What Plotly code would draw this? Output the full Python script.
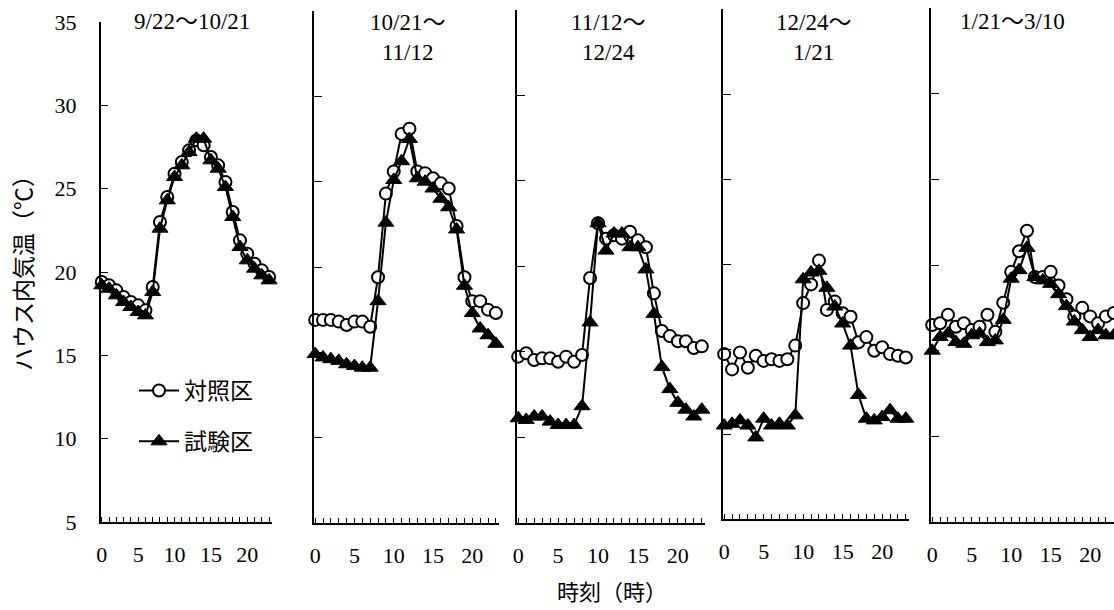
import plotly.graph_objects as go

# Hour of day (0-23) for every series
HOURS = list(range(24))

# Period captions, one per panel
PERIODS = ["9/22～10/21", "10/21～<br>11/12", "11/12～<br>12/24", "12/24～<br>1/21", "1/21～3/10"]

# Mean hourly greenhouse air temperature (°C), control plot (対照区)
ctrl_p1 = [19.4, 19.2, 18.9, 18.5, 18.2, 18.0, 17.7, 19.1, 23.0, 24.5, 25.9, 26.6,
           27.3, 27.9, 27.6, 26.9, 26.4, 25.4, 23.6, 21.9, 21.1, 20.5, 20.1, 19.7]
ctrl_p2 = [16.9, 16.9, 16.9, 16.8, 16.6, 16.8, 16.8, 16.5, 19.4, 24.3, 25.6, 27.8,
           28.1, 25.6, 25.5, 25.2, 24.9, 24.6, 22.4, 19.4, 18.0, 18.0, 17.5, 17.3]
ctrl_p3 = [14.7, 14.9, 14.5, 14.6, 14.6, 14.4, 14.7, 14.4, 14.8, 19.3, 22.5, 21.6,
           21.8, 21.6, 22.0, 21.5, 21.1, 18.4, 16.2, 15.9, 15.6, 15.6, 15.2, 15.3]
ctrl_p4 = [14.7, 13.8, 14.8, 13.9, 14.6, 14.3, 14.4, 14.3, 14.4, 15.2, 17.7, 18.8,
           20.2, 17.3, 17.8, 17.1, 16.9, 15.4, 15.7, 14.9, 15.1, 14.7, 14.6, 14.5]
ctrl_p5 = [16.5, 16.6, 17.1, 16.4, 16.6, 16.2, 16.4, 17.1, 16.1, 17.8, 19.6, 20.8,
           22.0, 19.3, 19.3, 19.6, 18.8, 18.0, 17.0, 17.5, 17.0, 16.6, 17.0, 17.2]

# Mean hourly greenhouse air temperature (°C), test plot (試験区)
test_p1 = [19.2, 19.0, 18.6, 18.2, 17.9, 17.6, 17.4, 18.8, 22.6, 24.3, 25.7, 26.4,
           27.2, 28.0, 28.0, 26.7, 26.2, 25.1, 23.3, 21.5, 20.7, 20.2, 19.8, 19.5]
test_p2 = [14.9, 14.7, 14.6, 14.5, 14.3, 14.2, 14.1, 14.1, 18.0, 22.6, 25.1, 26.2,
           27.5, 25.2, 25.0, 24.6, 24.0, 23.5, 22.2, 18.9, 17.3, 16.4, 16.0, 15.5]
test_p3 = [11.1, 11.0, 11.2, 11.2, 10.9, 10.7, 10.7, 10.7, 11.8, 16.7, 22.5, 20.9,
           21.9, 21.9, 21.1, 21.1, 19.8, 17.2, 14.1, 12.8, 12.0, 11.6, 11.2, 11.6]
test_p4 = [10.5, 10.6, 10.8, 10.5, 9.8, 10.9, 10.5, 10.6, 10.5, 11.1, 19.1, 19.5,
           19.6, 18.6, 17.5, 16.5, 15.2, 12.3, 10.9, 10.8, 11.0, 11.4, 10.9, 10.9]
test_p5 = [15.0, 15.8, 16.0, 15.5, 15.4, 15.9, 16.0, 15.5, 15.6, 16.8, 19.2, 19.7,
           21.0, 19.3, 19.1, 18.9, 18.3, 17.6, 16.7, 16.2, 15.8, 16.2, 15.9, 15.9]

CTRL = [ctrl_p1, ctrl_p2, ctrl_p3, ctrl_p4, ctrl_p5]
TEST = [test_p1, test_p2, test_p3, test_p4, test_p5]

Y_TICKS = [5, 10, 15, 20, 25, 30, 35]
X_TICKS = [0, 5, 10, 15, 20]

W, H = 1114, 610
X0 = -0.15  # left end of each hour axis
# panel frames in pixels: left, nominal right, top (35 °C), bottom (5 °C)
FRAMES = [(100.7, 272, 22, 522), (314, 499, 11, 523), (517, 705, 9.5, 522.5),
          (723, 909, 9, 519), (931, 1117, 8, 522)]
SPAN = 23.55  # hours covered by the nominal panel width
TITLE_X = [192, 407, 608, 813, 1012]  # caption centres in pixels

NUM_FONT = "Liberation Serif, Noto Sans CJK JP, serif"
JP_FONT = "Noto Sans CJK JP, sans-serif"

fig = go.Figure()
layout = dict(
    width=W, height=H, margin=dict(l=0, r=0, t=0, b=0, autoexpand=False),
    paper_bgcolor="white", plot_bgcolor="white",
    showlegend=True,
    legend=dict(x=134 / W, y=1 - 369 / H, xanchor="left", yanchor="top",
                font=dict(family=JP_FONT, size=23, color="black"),
                bgcolor="rgba(0,0,0,0)", traceorder="grouped", tracegroupgap=18,
                itemsizing="trace", itemwidth=40),
)

annotations = []
for i, (left, right, top, bottom) in enumerate(FRAMES):
    pph = (right - left) / SPAN
    right_c = min(right, W)
    x_hi = X0 + (right_c - left) / pph
    xa = "xaxis" if i == 0 else f"xaxis{i + 1}"
    ya = "yaxis" if i == 0 else f"yaxis{i + 1}"
    xref = "x" if i == 0 else f"x{i + 1}"
    yref = "y" if i == 0 else f"y{i + 1}"
    layout[xa] = dict(
        domain=[left / W, right_c / W], range=[X0, x_hi], anchor=yref,
        automargin=False,
        showline=True, linecolor="black", linewidth=1.5, mirror=False,
        showgrid=False, zeroline=False,
        tickmode="array", tickvals=X_TICKS, ticks="inside", ticklen=5,
        tickwidth=1, tickcolor="black", ticklabelstandoff=12,
        minor=dict(dtick=1, tick0=0, ticks="inside", ticklen=5, tickwidth=1,
                   tickcolor="black", showgrid=False),
        tickfont=dict(family=NUM_FONT, size=22, color="black"),
    )
    layout[ya] = dict(
        domain=[1 - bottom / H, 1 - top / H], range=[5, 35], anchor=xref,
        automargin=False,
        showline=True, linecolor="black", linewidth=1.5,
        showgrid=False, zeroline=False,
        tickmode="array", tickvals=Y_TICKS, ticks="inside", ticklen=8,
        tickwidth=1, tickcolor="black", showticklabels=(i == 0),
        ticklabelstandoff=18,
        tickfont=dict(family=NUM_FONT, size=22, color="black"),
    )

    fig.add_trace(go.Scatter(
        x=HOURS, y=CTRL[i], xaxis=xref, yaxis=yref, mode="lines+markers",
        name="対照区", legendgroup="ctrl", showlegend=(i == 0), cliponaxis=False,
        line=dict(color="black", width=2),
        marker=dict(symbol="circle", size=12, color="white",
                    line=dict(color="black", width=2)),
    ))
    fig.add_trace(go.Scatter(
        x=HOURS, y=TEST[i], xaxis=xref, yaxis=yref, mode="lines+markers",
        name="試験区", legendgroup="test", showlegend=(i == 0), cliponaxis=False,
        line=dict(color="black", width=2),
        marker=dict(symbol="triangle-up", size=14, color="black",
                    line=dict(color="black", width=1)),
    ))

    two_lines = "<br>" in PERIODS[i]
    annotations.append(dict(
        text=PERIODS[i], xref="paper", yref="paper",
        x=TITLE_X[i] / W, y=1 - (37 if two_lines else 22) / H,
        xanchor="center", yanchor="middle", showarrow=False, align="center",
        font=dict(family=NUM_FONT, size=23, color="black"),
    ))

annotations.append(dict(
    text="ハウス内気温（℃）", xref="paper", yref="paper", x=22 / W, y=1 - 268 / H,
    xanchor="center", yanchor="middle", textangle=-90, showarrow=False,
    font=dict(family=JP_FONT, size=23, color="black"),
))
annotations.append(dict(
    text="時刻（時）", xref="paper", yref="paper", x=612 / W, y=1 - 590 / H,
    xanchor="center", yanchor="middle", showarrow=False,
    font=dict(family=JP_FONT, size=22, color="black"),
))
layout["annotations"] = annotations
fig.update_layout(**layout)

fig.write_html("out.html")
